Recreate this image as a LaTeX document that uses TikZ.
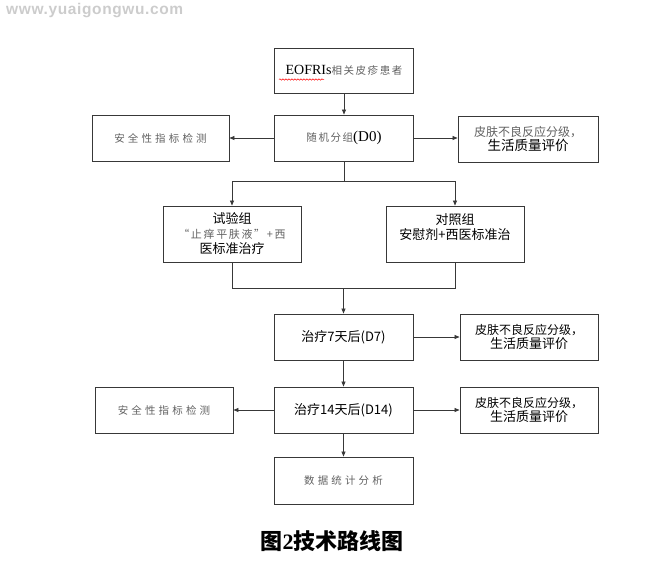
\documentclass[tikz,border=0pt]{standalone}
\usepackage{fontspec}
\setmainfont{Liberation Serif}
\newfontfamily\cjk{Noto Sans CJK SC}
\newfontfamily\cjksp{Noto Sans CJK SC}[LetterSpace=30]
\newfontfamily\cjkspb{Noto Sans CJK SC}[LetterSpace=15]
\newfontfamily\wmfont{Liberation Sans}[LetterSpace=4]
\usetikzlibrary{arrows.meta,decorations.pathmorphing,calc}
\definecolor{lighttext}{gray}{0.38}
\definecolor{linecol}{gray}{0.22}
\begin{document}
\begin{tikzpicture}[x=1pt,y=-1pt,
  box/.style={draw=linecol,line width=0.9pt,minimum width=139pt,minimum height=46pt,inner sep=0pt,align=center},
  arr/.style={draw=linecol,line width=0.7pt,-{Triangle[length=5pt,width=4pt]}},
  ln/.style={draw=linecol,line width=0.7pt},
]
\useasboundingbox (0,0) rectangle (649,568);
\node[font=\wmfont\bfseries\fontsize{15.5}{16}\selectfont, text=black!20, anchor=west, inner sep=0pt] (wm) at (6,11) {www.yuaigongwu.com};

\node[box, minimum height=45pt] (n1) at (344,70.5) {\fontsize{14}{16}\selectfont EOFRIs{\cjkspb\fontsize{10.5}{14}\selectfont\color{lighttext}相关皮疹患者}};
\draw[red, line width=0.5pt, decoration={snake, segment length=3pt, amplitude=0.7pt}, decorate] (279,79.5) -- (324,79.5);

\node[box] (n2) at (344,138) {{\cjkspb\fontsize{10.5}{14}\selectfont\color{lighttext}随机分组}{\fontsize{15}{16}\selectfont(D0)}};
\node[box, minimum width=137pt] (L1) at (160.5,138) {\cjksp\fontsize{10.5}{14}\selectfont\color{lighttext}安全性指标检测};
\node[box, minimum width=140pt] (R1) at (528,139) {{\cjk\fontsize{12}{17}\selectfont\color{lighttext}皮肤不良反应分级，}\\{\cjk\fontsize{13.5}{17}\selectfont 生活质量评价}};

\node[box, minimum width=138pt, minimum height=56pt, font=\cjk\fontsize{13}{15}\selectfont] (G1) at (232,234) {试验组\\{\cjkspb\fontsize{11}{15}\selectfont\color{lighttext}“止痒平肤液”+西}\\医标准治疗};
\node[box, minimum width=138pt, minimum height=56pt, font=\cjk\fontsize{13}{15}\selectfont] (G2) at (455,234) {对照组\\安慰剂+西医标准治\\\mbox{}};

\node[box, font=\cjk\fontsize{13}{15}\selectfont] (D7) at (343.5,337) {治疗7天后(D7)};
\node[box, minimum width=138pt] (R2) at (529,337) {{\cjk\fontsize{12}{16}\selectfont 皮肤不良反应分级，}\\{\cjk\fontsize{13}{16}\selectfont 生活质量评价}};

\node[box, font=\cjk\fontsize{13}{15}\selectfont] (D14) at (343.5,410) {治疗14天后(D14)};
\node[box, minimum width=138pt] (L2) at (164,410) {\cjksp\fontsize{10.5}{14}\selectfont\color{lighttext}安全性指标检测};
\node[box, minimum width=138pt] (R3) at (529,410) {{\cjk\fontsize{12}{16}\selectfont 皮肤不良反应分级，}\\{\cjk\fontsize{13}{16}\selectfont 生活质量评价}};

\node[box, minimum height=47pt] (DS) at (343.5,480.5) {\cjksp\fontsize{10.5}{14}\selectfont\color{lighttext}数据统计分析};

\node[inner sep=0pt] (cap) at (332,541) {\bfseries{\cjk\fontsize{22}{24}\selectfont 图}{\fontsize{22}{24}\selectfont 2}{\cjk\fontsize{22}{24}\selectfont 技术路线图}};

% connectors
\draw[arr] (n1.south) -- (n2.north);
\draw[arr] (n2.west) -- (L1.east);
\draw[arr] (n2.east) -- (R1.west |- n2.east);
\coordinate (split) at ($(n2.south)+(0,20)$);
\draw[ln] (n2.south) -- (split);
\draw[arr] (split) -| (G1.north);
\draw[arr] (split) -| (G2.north);
\coordinate (merge) at (D7.north |- 0,288);
\draw[ln] (G1.south) |- (merge);
\draw[ln] (G2.south) |- (merge);
\draw[arr] (merge) -- (D7.north);
\draw[arr] (D7.east) -- (R2.west);
\draw[arr] (D7.south) -- (D14.north);
\draw[arr] (D14.west) -- (L2.east);
\draw[arr] (D14.east) -- (R3.west);
\draw[arr] (D14.south) -- (DS.north);
\end{tikzpicture}
\end{document}
